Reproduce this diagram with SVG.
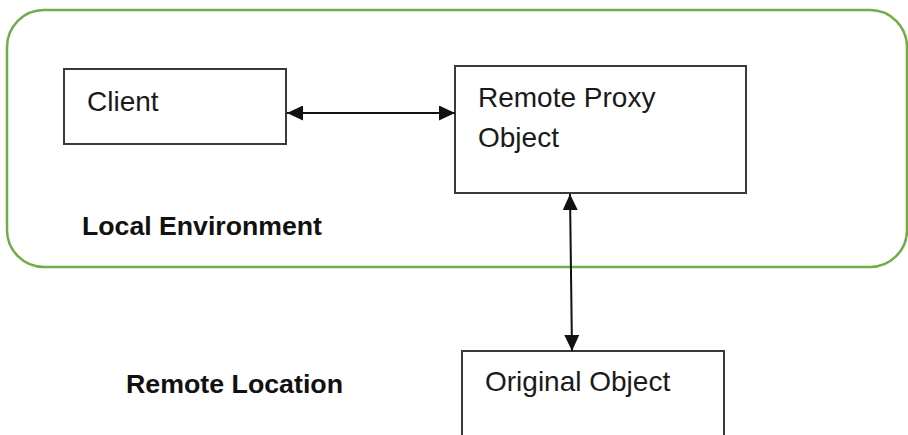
<svg xmlns="http://www.w3.org/2000/svg" width="908" height="435" viewBox="0 0 908 435">
<style>
.box{fill:#fff;stroke:#3a3a3a;stroke-width:2}
.lbl{font-family:"Liberation Sans",Arial,sans-serif;font-size:28px;fill:#1a1a1a}
.bold{font-family:"Liberation Sans",Arial,sans-serif;font-size:26.5px;font-weight:bold;fill:#111}
.conn{stroke:#111;stroke-width:2;fill:none}
</style>
<defs>
<marker id="ah" viewBox="0 0 16 15" refX="16" refY="7.5" markerWidth="16" markerHeight="15" markerUnits="userSpaceOnUse" orient="auto-start-reverse">
<path d="M0,0 L16,7.5 L0,15 Z" fill="#111"/>
</marker>
</defs>
<rect width="908" height="435" fill="#fff"/>
<g id="local-environment">
<rect x="7" y="10" width="900" height="257" rx="37" ry="37" fill="none" stroke="#70ad47" stroke-width="2.5"/>
<text class="bold" x="82" y="235" textLength="240" lengthAdjust="spacingAndGlyphs">Local Environment</text>
</g>
<g id="remote-location">
<text class="bold" x="126" y="393" textLength="217" lengthAdjust="spacingAndGlyphs">Remote Location</text>
</g>
<g id="client">
<rect class="box" x="64" y="69" width="222" height="75"/>
<text class="lbl" x="87" y="111">Client</text>
</g>
<g id="remote-proxy">
<rect class="box" x="455" y="66" width="291" height="127"/>
<text class="lbl" x="478" y="107">Remote Proxy</text>
<text class="lbl" x="478" y="147">Object</text>
</g>
<g id="original-object">
<rect class="box" x="462" y="351" width="262" height="100"/>
<text class="lbl" x="485" y="391">Original Object</text>
</g>
<g id="connectors">
<line class="conn" x1="287" y1="113" x2="455" y2="113" marker-start="url(#ah)" marker-end="url(#ah)"/>
<line class="conn" x1="570" y1="194" x2="572" y2="351" marker-start="url(#ah)" marker-end="url(#ah)"/>
</g>
</svg>
